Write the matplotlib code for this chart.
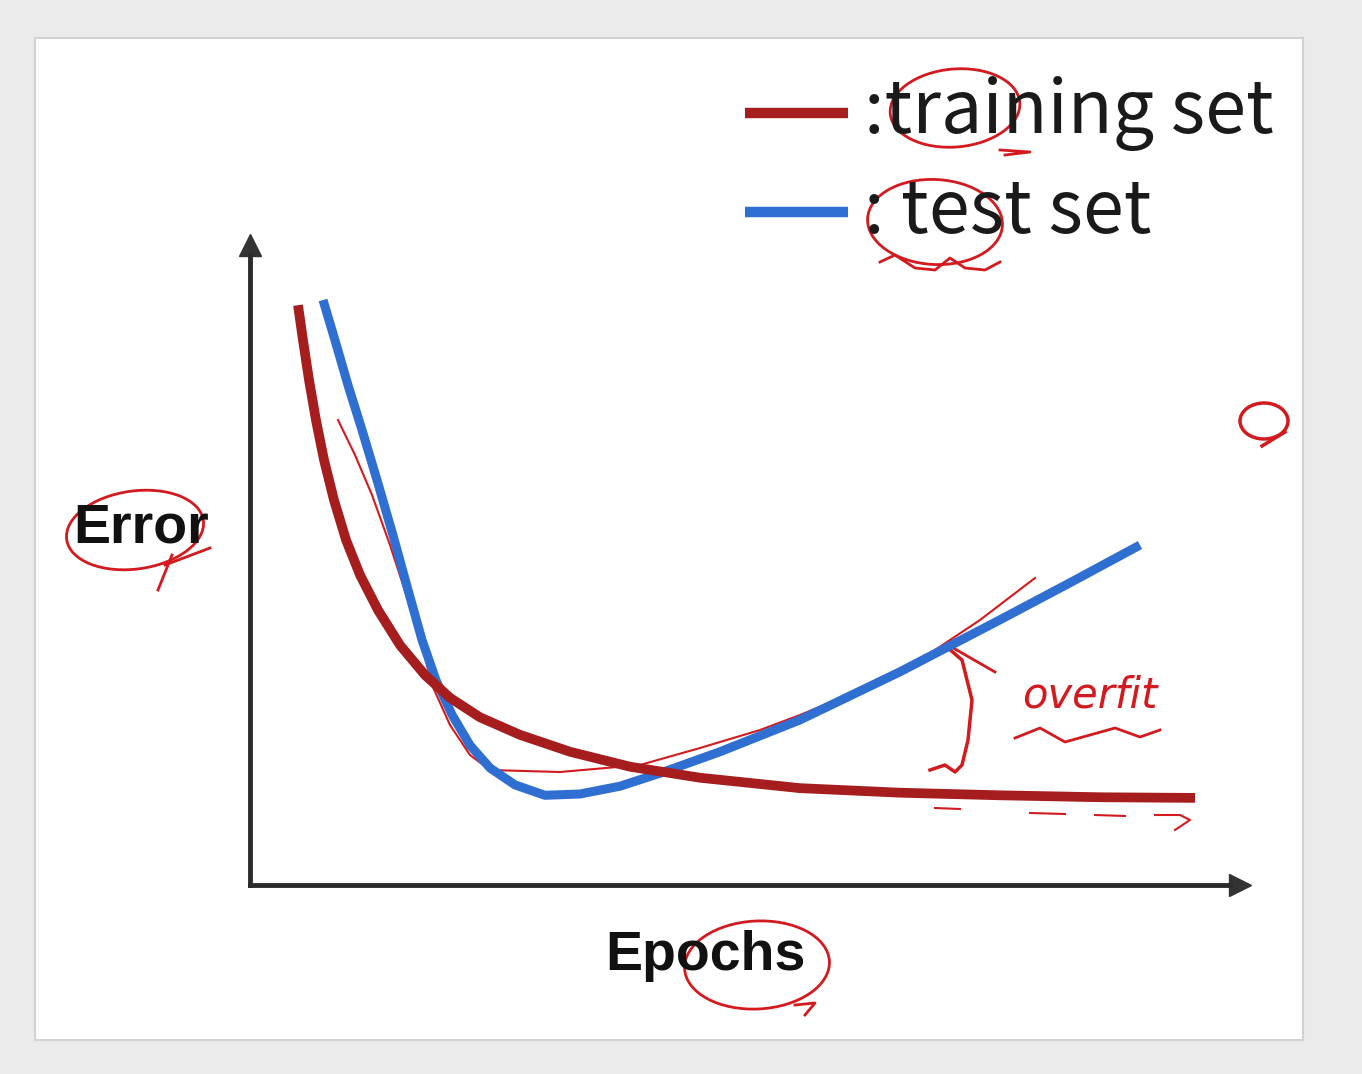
"""
Training vs test error over epochs (hand-annotated lecture slide).
"""

import numpy as np
import matplotlib.pyplot as plt
from matplotlib.patches import Ellipse, Rectangle

# data (epochs, error)
train_x = [4.8, 5.3, 5.9, 6.6, 7.4, 8.4, 9.6, 11.0, 12.8, 15.0, 17.5, 20.0, 23.0, 27.0,
           32.0, 38.0, 45.0, 55.0, 65.0, 75.0, 85.0, 94.5]
train_y = [89.2, 83.8, 77.7, 71.5, 65.4, 59.2, 53.1, 47.7, 42.3, 36.9, 32.3, 28.8, 25.8, 23.1,
           20.5, 18.2, 16.5, 14.9, 14.2, 13.8, 13.5, 13.4]

test_x = [7.3, 8.5, 9.8, 11.2, 12.7, 14.3, 15.8, 17.2, 18.6, 20.2, 22.0, 24.0, 26.5, 29.5,
          33.0, 37.0, 41.0, 47.0, 55.0, 65.0, 75.0, 82.0, 89.0]
test_y = [90.0, 83.8, 76.9, 70.0, 62.3, 53.8, 45.4, 37.7, 31.5, 26.2, 21.5, 18.0, 15.4, 13.8,
          14.0, 15.2, 17.2, 20.5, 25.4, 32.8, 40.8, 46.5, 52.3]

labels = [':training set', ': test set']
colors = ['#a51d1d', '#2f6fd2']
xlabel = 'Epochs'
ylabel = 'Error'

W, H = 1362, 1074
fig = plt.figure(figsize=(W / 100, H / 100), dpi=100)
fig.patch.set_facecolor('#ebebeb')

# overlay in pixel coords for the slide panel and pen marks
ov = fig.add_axes([0, 0, 1, 1])
ov.set_xlim(0, W)
ov.set_ylim(H, 0)
ov.axis('off')
ov.add_patch(Rectangle((35, 38), 1268, 1002, facecolor='white', edgecolor='#d2d2d2', lw=1.5))

# chart axes
ax = fig.add_axes([250 / W, (H - 885) / H, 1000 / W, 650 / H])
ax.set_facecolor('none')
ax.set_xlim(0, 100)
ax.set_ylim(0, 100)
for s in ['top', 'right']:
    ax.spines[s].set_visible(False)
for s in ['left', 'bottom']:
    ax.spines[s].set_color('#2b2b2b')
    ax.spines[s].set_linewidth(3.5)
ax.spines['left'].set_bounds(0, 97)
ax.spines['bottom'].set_bounds(0, 98)
ax.set_xticks([])
ax.set_yticks([])
ax.plot([0], [0.985], marker='^', ms=16, color='#333333', transform=ax.transAxes, clip_on=False)
ax.plot([0.99], [0], marker='>', ms=16, color='#333333', transform=ax.transAxes, clip_on=False)

ax.plot(train_x, train_y, color=colors[0], lw=7, solid_capstyle='butt', zorder=3)
ax.plot(test_x, test_y, color=colors[1], lw=6.5, solid_capstyle='butt', zorder=2)

ax.text(-0.109, 0.549, ylabel, transform=ax.transAxes, fontsize=40, fontweight='bold',
        family='Liberation Sans', ha='center', va='center', color='#111111')
ax.text(0.455, -0.11, xlabel, transform=ax.transAxes, fontsize=40, fontweight='bold',
        family='Liberation Sans', ha='center', va='center', color='#111111')

# legend drawn by hand like the slide
for i, (lab, c) in enumerate(zip(labels, colors)):
    y = 113 + i * 99
    ov.plot([745, 848], [y, y], color=c, lw=7.5, solid_capstyle='butt')
    ov.text(864, y, lab, fontsize=53, fontweight='medium',
            family=['Noto Sans CJK KR', 'DejaVu Sans'],
            ha='left', va='center', color='#1a1a1a')

# pen annotations
pen = '#d21a1f'
ov.add_patch(Ellipse((955, 108), 130, 78, angle=-5, fill=False, ec=pen, lw=2))
ov.plot([1000, 1030, 1005], [150, 152, 155], color=pen, lw=2)
ov.add_patch(Ellipse((935, 222), 135, 85, angle=3, fill=False, ec=pen, lw=2))
ov.plot([880, 895, 915, 935, 950, 965, 985, 1000],
        [262, 255, 268, 270, 258, 268, 270, 262], color=pen, lw=2)
ov.add_patch(Ellipse((135, 530), 138, 78, angle=-8, fill=False, ec=pen, lw=2))
ov.plot([172, 158], [555, 590], color=pen, lw=2)
ov.plot([165, 210], [565, 548], color=pen, lw=2)
ov.add_patch(Ellipse((757, 965), 145, 88, angle=-3, fill=False, ec=pen, lw=2))
ov.plot([795, 815, 805], [1005, 1003, 1015], color=pen, lw=2)
ov.add_patch(Ellipse((1264, 421), 48, 36, fill=False, ec=pen, lw=2.5))
ov.plot([1262, 1285], [446, 432], color=pen, lw=2.5)

# thin pen sketch of the test curve
sk_x = [338, 355, 372, 390, 408, 422, 432, 450, 470, 490, 560, 640, 700, 760, 800, 860, 920, 980, 1035]
sk_y = [420, 455, 495, 545, 600, 645, 685, 725, 755, 770, 772, 765, 748, 730, 715, 690, 660, 620, 578]
ov.plot(sk_x, sk_y, color=pen, lw=1.5)

# overfit arrow and label
ov.plot([948, 962, 972, 968, 962, 955, 945, 930], [648, 660, 700, 740, 765, 772, 765, 770], color=pen, lw=2.5)
ov.plot([948, 995], [645, 672], color=pen, lw=2)
ov.text(1090, 695, 'overfit', fontsize=30, style='italic', color=pen,
        ha='center', va='center', family='DejaVu Sans')
ov.plot([1015, 1040, 1065, 1090, 1115, 1140, 1160],
        [738, 728, 742, 735, 728, 737, 730], color=pen, lw=2)
ov.plot([935, 960], [808, 809], color=pen, lw=1.5)
ov.plot([1030, 1065], [813, 814], color=pen, lw=1.5)
ov.plot([1095, 1125], [815, 816], color=pen, lw=1.5)
ov.plot([1155, 1180, 1190, 1175], [815, 815, 820, 830], color=pen, lw=1.5)

fig.savefig('out.png', dpi=100, facecolor=fig.get_facecolor())
